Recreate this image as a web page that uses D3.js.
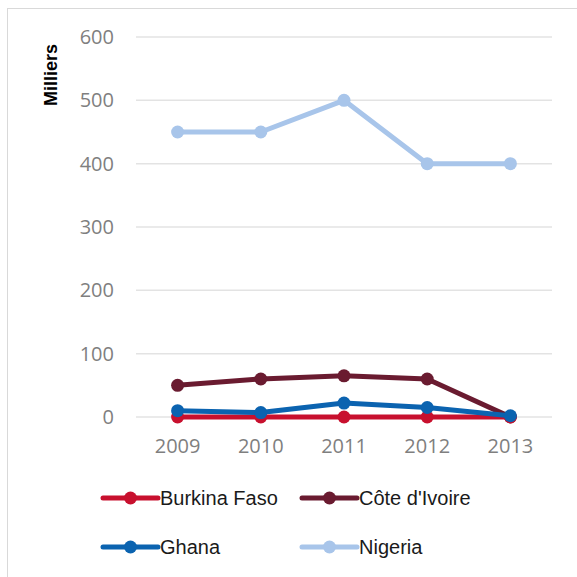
<!DOCTYPE html>
<html>
<head>
<meta charset="utf-8">
<script src="https://cdn.jsdelivr.net/npm/d3@7/dist/d3.min.js"></script>
<style>
  html, body { margin: 0; padding: 0; background: #fff; }
  svg { display: block; }
</style>
</head>
<body>
<svg id="chart" width="577" height="577"></svg>
<script>
// Years on the category axis
const years = ["2009", "2010", "2011", "2012", "2013"];
// Values in thousands
const burkinaFaso = [0, 0, 0, 0, 0];
const coteDIvoire = [50, 60, 65, 60, 0];
const ghana = [10, 7, 22, 15, 2];
const nigeria = [450, 450, 500, 400, 400];
const yTicks = [0, 100, 200, 300, 400, 500, 600];
const seriesNames = ["Burkina Faso", "Côte d'Ivoire", "Ghana", "Nigeria"];
const seriesColors = ["#c8102e", "#6a1b30", "#0b63b0", "#a8c5ea"];

const seriesValues = [burkinaFaso, coteDIvoire, ghana, nigeria];

const svg = d3.select("#chart");
const font = "'Segoe UI', 'Open Sans', 'Liberation Sans', Arial, sans-serif";
const legendFont = "'Liberation Sans', Arial, sans-serif";

// Outer frame
svg.append("rect")
  .attr("x", 7.5).attr("y", 8.5)
  .attr("width", 580).attr("height", 580)
  .attr("fill", "#fff")
  .attr("stroke", "#d9d9d9").attr("stroke-width", 1);

const plot = { left: 136, right: 552, top: 37, bottom: 417 };

const x = d3.scaleBand().domain(years).range([plot.left, plot.right]).padding(0);
const y = d3.scaleLinear().domain([0, 600]).range([plot.bottom, plot.top]);

// Gridlines
svg.append("g")
  .selectAll("line")
  .data(yTicks)
  .join("line")
  .attr("x1", plot.left).attr("x2", plot.right)
  .attr("y1", d => y(d)).attr("y2", d => y(d))
  .attr("stroke", "#e3e3e3").attr("stroke-width", 1.5);

// Y axis labels
const yAxis = d3.axisLeft(y).tickValues(yTicks).tickSize(0).tickPadding(22);
const gy = svg.append("g").attr("transform", `translate(${plot.left},0)`).call(yAxis);
gy.select(".domain").remove();
gy.selectAll("text")
  .attr("font-family", font).attr("font-size", 20).attr("fill", "#7f7f7f");

// X axis labels
const xAxis = d3.axisBottom(x).tickSize(0).tickPadding(22);
const gx = svg.append("g").attr("transform", `translate(0,${plot.bottom})`).call(xAxis);
gx.select(".domain").remove();
gx.selectAll("text")
  .attr("font-family", font).attr("font-size", 20).attr("fill", "#7f7f7f");

// Axis title
svg.append("text")
  .attr("transform", `translate(57,75) rotate(-90)`)
  .attr("text-anchor", "middle")
  .attr("font-family", legendFont)
  .attr("font-weight", "bold")
  .attr("font-size", 18)
  .attr("fill", "#000")
  .text("Milliers");

const cx = d => x(d) + x.bandwidth() / 2;
const line = d3.line().x(d => cx(d.year)).y(d => y(d.value));

// Draw series: Nigeria first, then the others so Ghana ends up on top
const drawOrder = [3, 1, 0, 2];
drawOrder.forEach(i => {
  const pts = years.map((yr, j) => ({ year: yr, value: seriesValues[i][j] }));
  const g = svg.append("g");
  g.append("path")
    .datum(pts)
    .attr("d", line)
    .attr("fill", "none")
    .attr("stroke", seriesColors[i])
    .attr("stroke-width", 5)
    .attr("stroke-linejoin", "round");
  g.selectAll("circle")
    .data(pts)
    .join("circle")
    .attr("cx", d => cx(d.year))
    .attr("cy", d => y(d.value))
    .attr("r", 6.5)
    .attr("fill", seriesColors[i]);
});

// Legend
const legendPos = [
  { x: 103, y: 498 }, { x: 302, y: 498 },
  { x: 103, y: 547 }, { x: 302, y: 547 }
];
seriesNames.forEach((name, i) => {
  const p = legendPos[i];
  const g = svg.append("g").attr("transform", `translate(${p.x},${p.y})`);
  g.append("line")
    .attr("x1", 0).attr("x2", 55).attr("y1", 0).attr("y2", 0)
    .attr("stroke", seriesColors[i]).attr("stroke-width", 5)
    .attr("stroke-linecap", "round");
  g.append("circle").attr("cx", 27.5).attr("cy", 0).attr("r", 6.5)
    .attr("fill", seriesColors[i]);
  g.append("text")
    .attr("x", 57).attr("y", 0).attr("dy", "0.35em")
    .attr("font-family", legendFont)
    .attr("font-size", 20).attr("fill", "#1a1a1a")
    .text(name);
});
</script>
</body>
</html>
